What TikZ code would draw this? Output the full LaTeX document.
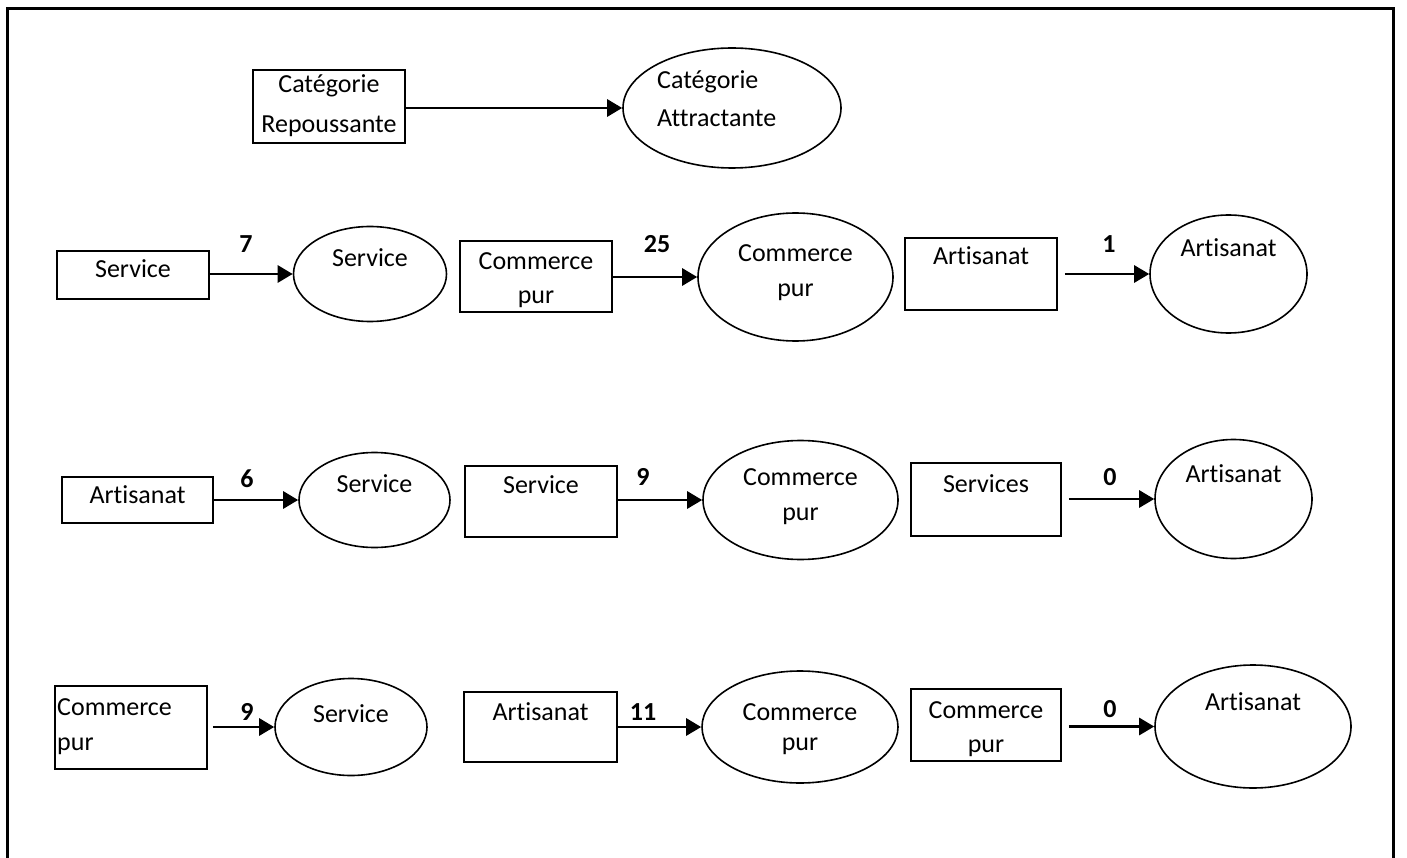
\documentclass[tikz,border=0pt]{standalone}
\usepackage{fontspec}
\setmainfont{Carlito}[Ligatures=NoCommon]
\usetikzlibrary{shapes.geometric,arrows.meta}
\begin{document}
\begin{tikzpicture}[x=1pt,y=-1pt,
 box/.style={draw,line width=1.9pt,inner sep=0pt},
 oval/.style={draw,ellipse,line width=1.6pt,inner sep=0pt},
 txt/.style={inner sep=0pt,anchor=base,font=\fontsize{26}{31}\selectfont},
 txtl/.style={txt,anchor=base west},
 num/.style={txt,font=\fontsize{26}{31}\selectfont\bfseries},
 arr/.style={-{Triangle[length=15pt,width=17pt]},line width=2.9pt},
 frame/.style={line width=3pt}]
\useasboundingbox (0,0) rectangle (1407,858);
\draw[frame] (7,858) -- (7,9) -- (1393,9) -- (1393,858);

% top legend
\node[box,minimum width=152pt,minimum height=73pt] (r0) at (329,106.5) {};
\node[txt] (r0a) at (329,93) {Catégorie};
\node[txt] (r0b) at (329,133) {Repoussante};
\node[oval,minimum width=218pt,minimum height=120pt] (a0) at (732,108) {};
\node[txtl] (a0a) at (657,89) {Catégorie};
\node[txtl] (a0b) at (657,127) {Attractante};
\draw[arr] (r0.east |- a0.west) -- (a0.west);

% row 1
\node[box,minimum width=152pt,minimum height=48pt] (r1) at (133,275) {};
\node[txt] (r1a) at (133,278) {Service};
\node[oval,minimum width=153pt,minimum height=95pt] (e1) at (370,274) {};
\node[txt] (e1a) at (370,267) {Service};
\draw[arr] (r1.east |- e1.west) -- (e1.west);
\node[num] (n1) at (246,253) {7};

\node[box,minimum width=152pt,minimum height=71pt] (r2) at (536,276.5) {};
\node[txt] (r2a) at (536,270) {Commerce};
\node[txt] (r2b) at (536,304) {pur};
\node[oval,minimum width=195pt,minimum height=128pt] (e2) at (795.5,277) {};
\node[txt] (e2a) at (795.5,262) {Commerce};
\node[txt] (e2b) at (795.5,297) {pur};
\draw[arr] (r2.east |- e2.west) -- (e2.west);
\node[num] (n2) at (657,253) {25};

\node[box,minimum width=152pt,minimum height=72pt] (r3) at (981,274) {};
\node[txt] (r3a) at (981,265) {Artisanat};
\node[oval,minimum width=157pt,minimum height=118pt] (e3) at (1228.5,274) {};
\node[txt] (e3a) at (1228.5,257) {Artisanat};
\draw[arr] ([xshift=7pt]r3.east |- e3.west) -- (e3.west);
\node[num] (n3) at (1109,253) {1};

% row 2
\node[box,minimum width=151pt,minimum height=46pt] (r4) at (137.5,500) {};
\node[txt] (r4a) at (137.5,503) {Artisanat};
\node[oval,minimum width=151pt,minimum height=95pt] (e4) at (374.5,500) {};
\node[txt] (e4a) at (374.5,492) {Service};
\draw[arr] (r4.east |- e4.west) -- (e4.west);
\node[num] (n4) at (247,487) {6};

\node[box,minimum width=152pt,minimum height=71pt] (r5) at (541,501.5) {};
\node[txt] (r5a) at (541,493) {Service};
\node[oval,minimum width=195pt,minimum height=119pt] (e5) at (800.5,500) {};
\node[txt] (e5a) at (800.5,485) {Commerce};
\node[txt] (e5b) at (800.5,520) {pur};
\draw[arr] (r5.east |- e5.west) -- (e5.west);
\node[num] (n5) at (643,485) {9};

\node[box,minimum width=150pt,minimum height=73pt] (r6) at (986,499.5) {};
\node[txt] (r6a) at (986,492) {Services};
\node[oval,minimum width=157pt,minimum height=119pt] (e6) at (1233.5,499) {};
\node[txt] (e6a) at (1233.5,482) {Artisanat};
\draw[arr] ([xshift=7pt]r6.east |- e6.west) -- (e6.west);
\node[num] (n6) at (1110,485) {0};

% row 3
\node[box,minimum width=152pt,minimum height=83pt] (r7) at (131,727.5) {};
\node[txtl] (r7a) at (57,715) {Commerce};
\node[txtl] (r7b) at (57,750) {pur};
\node[oval,minimum width=152pt,minimum height=97pt] (e7) at (351,727) {};
\node[txt] (e7a) at (351,722) {Service};
\draw[arr] ([xshift=5pt]r7.east |- e7.west) -- (e7.west);
\node[num] (n7) at (247,720) {9};

\node[box,minimum width=153pt,minimum height=70pt] (r8) at (540.5,727) {};
\node[txt] (r8a) at (540.5,720) {Artisanat};
\node[oval,minimum width=196pt,minimum height=112pt] (e8) at (800,727) {};
\node[txt] (e8a) at (800,720) {Commerce};
\node[txt] (e8b) at (800,750) {pur};
\draw[arr] (r8.east |- e8.west) -- (e8.west);
\node[num] (n8) at (643,720) {11};

\node[box,minimum width=150pt,minimum height=72pt] (r9) at (986,725) {};
\node[txt] (r9a) at (986,718) {Commerce};
\node[txt] (r9b) at (986,752) {pur};
\node[oval,minimum width=196pt,minimum height=123pt] (e9) at (1253,726.5) {};
\node[txt] (e9a) at (1253,710) {Artisanat};
\draw[arr] ([xshift=7pt]r9.east |- e9.west) -- (e9.west);
\node[num] (n9) at (1110,717) {0};
\end{tikzpicture}
\end{document}
